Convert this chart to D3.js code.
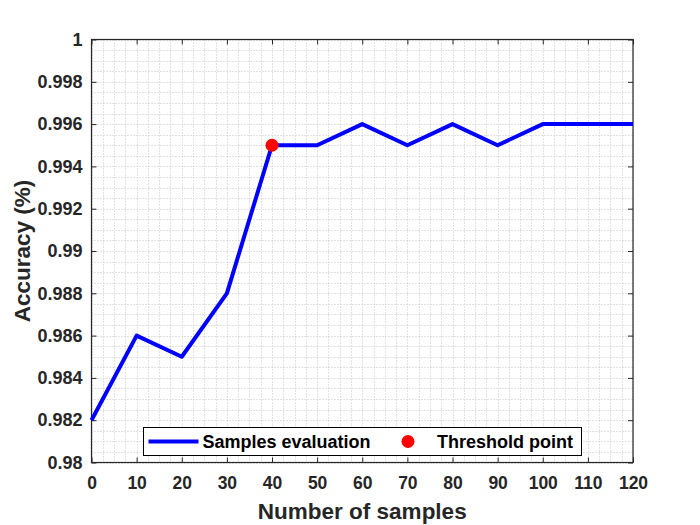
<!DOCTYPE html>
<html>
<head>
<meta charset="utf-8">
<script src="https://cdn.jsdelivr.net/npm/d3@7"></script>
<style>
  body { margin: 0; background: #fff; }
  text { font-family: "Liberation Sans", Arial, sans-serif; font-weight: bold; }
</style>
</head>
<body>
<div id="container"></div>
<script>
// data
const samples = [0, 10, 20, 30, 40, 50, 60, 70, 80, 90, 100, 110, 120]
const accuracy = [0.982, 0.986, 0.985, 0.988, 0.995, 0.995, 0.996, 0.995, 0.996, 0.995, 0.996, 0.996, 0.996]
const threshold = [{ x: 40, y: 0.995 }]
const xTicks = [0, 10, 20, 30, 40, 50, 60, 70, 80, 90, 100, 110, 120]
const yTicks = [0.98, 0.982, 0.984, 0.986, 0.988, 0.99, 0.992, 0.994, 0.996, 0.998, 1]
const legendLabels = ["Samples evaluation", "Threshold point"]

const width = 700,
  height = 525,
  margin = { top: 39.5, bottom: 62.5, left: 91.5, right: 67 },
  axisColor = "#262626"

const svg = d3.select("#container")
  .append("svg")
  .attr("width", width)
  .attr("height", height)

// scales
const xScale = d3.scaleLinear()
  .domain([0, 120])
  .range([margin.left, width - margin.right])

const yScale = d3.scaleLinear()
  .domain([0.98, 1])
  .range([height - margin.bottom, margin.top])

// dotted grid (major + minor)
const xGrid = d3.range(0, 120.001, 2.5)
const yGrid = d3.range(0, 41).map(i => 0.98 + i * 0.0005)
const grid = svg.append("g")
  .attr("stroke", "#c4c4c4")
  .attr("stroke-width", 1)
  .attr("stroke-dasharray", "1,2")
grid.selectAll("line.gx")
  .data(xGrid)
  .join("line")
  .attr("class", "gx")
  .attr("x1", d => Math.round(xScale(d)) + 0.5)
  .attr("x2", d => Math.round(xScale(d)) + 0.5)
  .attr("y1", margin.top)
  .attr("y2", height - margin.bottom)
grid.selectAll("line.gy")
  .data(yGrid)
  .join("line")
  .attr("class", "gy")
  .attr("y1", d => Math.round(yScale(d)) + 0.5)
  .attr("y2", d => Math.round(yScale(d)) + 0.5)
  .attr("x1", margin.left)
  .attr("x2", width - margin.right)

// axes
const xAxis = d3.axisBottom(xScale).tickValues(xTicks).tickSizeInner(-5).tickSizeOuter(0).tickPadding(14)
const yAxis = d3.axisLeft(yScale).tickValues(yTicks).tickSizeInner(-5).tickSizeOuter(0).tickPadding(9)
  .tickFormat(d => String(+d.toFixed(3)))

const gx = svg.append("g")
  .attr("transform", `translate(0,${height - margin.bottom})`)
  .call(xAxis)
const gy = svg.append("g")
  .attr("transform", `translate(${margin.left},0)`)
  .call(yAxis)

// mirrored ticks on top and right
svg.append("g")
  .attr("transform", `translate(0,${margin.top})`)
  .call(d3.axisTop(xScale).tickValues(xTicks).tickSizeInner(-5).tickSizeOuter(0).tickFormat(""))
svg.append("g")
  .attr("transform", `translate(${width - margin.right},0)`)
  .call(d3.axisRight(yScale).tickValues(yTicks).tickSizeInner(-5).tickSizeOuter(0).tickFormat(""))

svg.selectAll(".domain").remove()
svg.selectAll(".tick line").attr("stroke", axisColor)
svg.selectAll(".tick text")
  .attr("fill", axisColor)
  .attr("font-family", "Liberation Sans, Arial, sans-serif")
  .attr("font-weight", "bold")
gx.selectAll(".tick text").attr("font-size", 17.5)
gy.selectAll(".tick text").attr("font-size", 18)

// frame
svg.append("rect")
  .attr("x", margin.left)
  .attr("y", margin.top)
  .attr("width", width - margin.left - margin.right)
  .attr("height", height - margin.top - margin.bottom)
  .attr("fill", "none")
  .attr("stroke", axisColor)
  .attr("stroke-width", 1.2)

// line
const line = d3.line()
  .x((d, i) => xScale(samples[i]))
  .y(d => yScale(d))

svg.append("path")
  .datum(accuracy)
  .attr("d", line)
  .attr("fill", "none")
  .attr("stroke", "#0000ff")
  .attr("stroke-width", 4)
  .attr("stroke-linejoin", "round")

// threshold point
svg.selectAll("circle.th")
  .data(threshold)
  .join("circle")
  .attr("class", "th")
  .attr("cx", d => xScale(d.x))
  .attr("cy", d => yScale(d.y))
  .attr("r", 6.5)
  .attr("fill", "#ff0000")

// axis labels
svg.append("text")
  .attr("x", (margin.left + width - margin.right) / 2)
  .attr("y", 519)
  .attr("text-anchor", "middle")
  .attr("font-size", 22.5)
  .attr("fill", axisColor)
  .text("Number of samples")

svg.append("text")
  .attr("transform", `translate(30,${(margin.top + height - margin.bottom) / 2}) rotate(-90)`)
  .attr("text-anchor", "middle")
  .attr("font-size", 22.5)
  .attr("fill", axisColor)
  .text("Accuracy (%)")

// legend
const legend = svg.append("g").attr("transform", "translate(143.5,427.5)")
legend.append("rect")
  .attr("width", 438)
  .attr("height", 28)
  .attr("fill", "#fff")
  .attr("stroke", "#000")
  .attr("stroke-width", 1)
legend.append("line")
  .attr("x1", 5).attr("x2", 55)
  .attr("y1", 14).attr("y2", 14)
  .attr("stroke", "#0000ff")
  .attr("stroke-width", 4)
legend.append("text")
  .attr("x", 59).attr("y", 20.5)
  .attr("font-size", 18)
  .attr("fill", "#000")
  .text(legendLabels[0])
legend.append("circle")
  .attr("cx", 264.5).attr("cy", 14)
  .attr("r", 6.5)
  .attr("fill", "#ff0000")
legend.append("text")
  .attr("x", 293.5).attr("y", 20.5)
  .attr("font-size", 18)
  .attr("fill", "#000")
  .text(legendLabels[1])
</script>
</body>
</html>
